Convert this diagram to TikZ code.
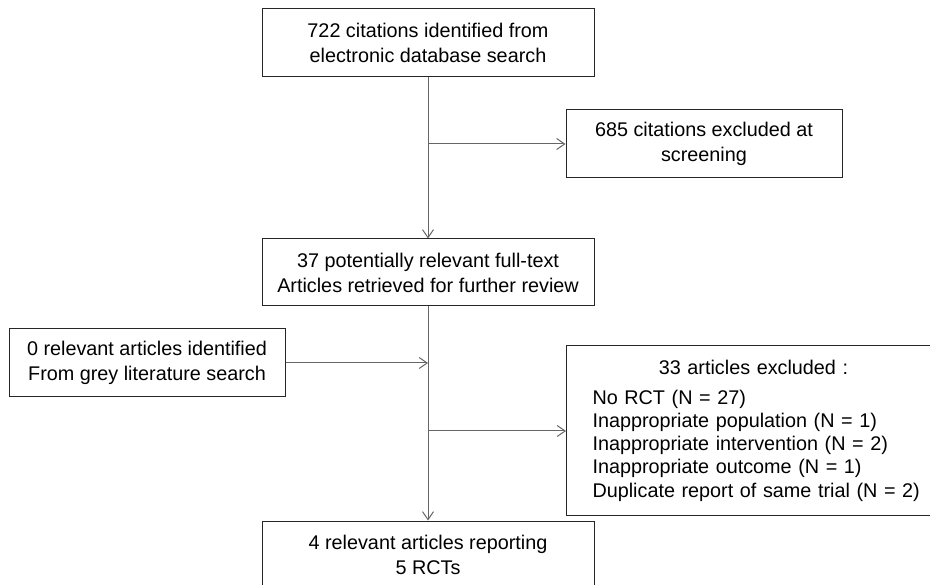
\documentclass[tikz,border=0pt]{standalone}
\usepackage{fontspec}
\setmainfont{Liberation Sans}
\usetikzlibrary{arrows.meta}
\begin{document}
\begin{tikzpicture}[x=1pt,y=-1pt,
  box/.style={draw=black!85, line width=1pt, fill=white, align=center, inner sep=0pt,
    font=\fontsize{19.8}{25}\selectfont},
  conn/.style={draw=black!60, line width=1pt},
  arr/.style={conn, -{Straight Barb[length=8pt,width=11pt,line width=1pt]}}]
\useasboundingbox (0,0) rectangle (930,585);
\clip (0,0) rectangle (930,585);
\node[box, minimum width=332pt, minimum height=68pt] (b1) at (428,43)
  {722 citations identified from\\electronic database search};
\node[box, minimum width=276pt, minimum height=68pt] (b2) at (704,144)
  {685 citations excluded at\\screening};
\node[box, minimum width=332pt, minimum height=67pt] (b3) at (428,272.5)
  {37 potentially relevant full-text\\Articles retrieved for further review};
\node[box, minimum width=276pt, minimum height=68pt] (b4) at (147,363)
  {0 relevant articles identified\\From grey literature search};
\node[box, anchor=north west, align=left, text width=350pt, inner xsep=26pt,
  minimum height=170pt, font=\fontsize{19.8}{23.3}\selectfont] (b5) at (566,345)
  {\makebox[322pt][c]{33 articles excluded :}\\[6.7pt]
   No RCT (N = 27)\\
   Inappropriate population (N = 1)\\
   Inappropriate intervention (N = 2)\\
   Inappropriate outcome (N = 1)\\
   Duplicate report of same trial (N = 2)};
\node[box, minimum width=332pt, minimum height=68pt] (b6) at (428,555)
  {4 relevant articles reporting\\5 RCTs};
\draw[arr] (b1.south) -- (b3.north);
\draw[arr] (b1.south |- b2.west) -- (b2.west);
\draw[arr] (b3.south) -- (b6.north);
\coordinate (j4) at (b3.south |- b4.east);
\draw[arr] (b4.east) -- (j4);
\coordinate (j5) at (b3.south |- 0,431);
\draw[arr] (j5) -- (j5 -| b5.west);
\end{tikzpicture}
\end{document}
